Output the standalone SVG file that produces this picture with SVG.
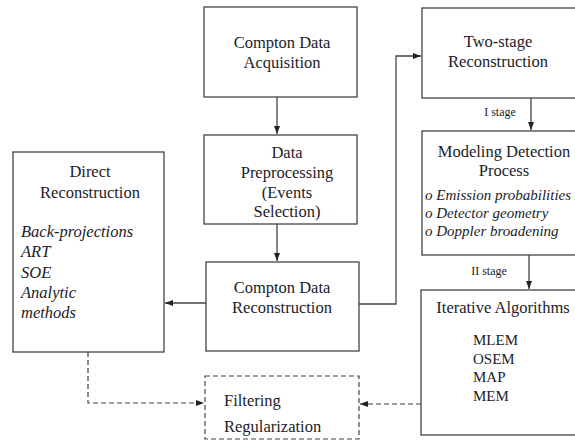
<svg xmlns="http://www.w3.org/2000/svg" width="575" height="441" viewBox="0 0 575 441">
<defs>
<style>
.box{fill:#fff;stroke:#444;stroke-width:1.3}
.dbox{fill:#fff;stroke:#444;stroke-width:1.2;stroke-dasharray:5 3}
.t{font-family:"Liberation Serif","Times New Roman",serif;font-size:16.5px;fill:#1c1c28;text-anchor:middle}
.l{text-anchor:start}
.i{font-style:italic}
.s{font-size:12px}
.m{font-size:15px}
.c{fill:none;stroke:#444;stroke-width:1.3}
.d{fill:none;stroke:#444;stroke-width:1.2;stroke-dasharray:5 3}
</style>
<marker id="ah" viewBox="0 0 8 6" refX="8" refY="3" markerWidth="8" markerHeight="6" markerUnits="userSpaceOnUse" orient="auto">
<path d="M0,0 L8,3 L0,6 Z" fill="#222"/>
</marker>
</defs>
<rect width="575" height="441" fill="#fff"/>
<g id="connectors">
<path class="c" d="M277,97 V134" marker-end="url(#ah)"/>
<path class="c" d="M277,224 V261" marker-end="url(#ah)"/>
<path class="c" d="M206,303 H165" marker-end="url(#ah)"/>
<path class="c" d="M359,304 H396 V56 H421" marker-end="url(#ah)"/>
<path class="c" d="M531,98 V130" marker-end="url(#ah)"/>
<path class="c" d="M529,255 V289" marker-end="url(#ah)"/>
<path class="d" d="M88,352 V403 H204" marker-end="url(#ah)"/>
<path class="d" d="M421,404 H360" marker-end="url(#ah)"/>
<text class="t s" x="500" y="116">I stage</text>
<text class="t s" x="489" y="275">II stage</text>
</g>
<g id="acquisition">
<rect class="box" x="204" y="7" width="153" height="90"/>
<text class="t" x="282" y="48">Compton Data</text>
<text class="t" x="282" y="68">Acquisition</text>
</g>
<g id="preprocessing">
<rect class="box" x="204" y="135" width="153" height="89"/>
<text class="t" x="287" y="158">Data</text>
<text class="t" x="287" y="178">Preprocessing</text>
<text class="t" x="287" y="198">(Events</text>
<text class="t" x="287" y="217">Selection)</text>
</g>
<g id="reconstruction">
<rect class="box" x="206" y="262" width="153" height="89"/>
<text class="t" x="282" y="293">Compton Data</text>
<text class="t" x="282" y="313">Reconstruction</text>
</g>
<g id="direct">
<rect class="box" x="13" y="152" width="151" height="200"/>
<text class="t" x="90" y="177">Direct</text>
<text class="t" x="90" y="198">Reconstruction</text>
<text class="t l i" x="21" y="237">Back-projections</text>
<text class="t l i" x="21" y="257">ART</text>
<text class="t l i" x="21" y="278">SOE</text>
<text class="t l i" x="21" y="298">Analytic</text>
<text class="t l i" x="21" y="318">methods</text>
</g>
<g id="twostage">
<rect class="box" x="422" y="8" width="160" height="90"/>
<text class="t" x="498" y="47">Two-stage</text>
<text class="t" x="498" y="67">Reconstruction</text>
</g>
<g id="modeling">
<rect class="box" x="422" y="131" width="160" height="124"/>
<text class="t" x="504" y="157">Modeling Detection</text>
<text class="t" x="504" y="176">Process</text>
<text class="t l i m" x="425" y="200">o Emission probabilities</text>
<text class="t l i m" x="425" y="218">o Detector geometry</text>
<text class="t l i m" x="425" y="236">o Doppler broadening</text>
</g>
<g id="iterative">
<rect class="box" x="421" y="290" width="161" height="145"/>
<text class="t" x="503" y="313">Iterative Algorithms</text>
<text class="t l m" x="473" y="345">MLEM</text>
<text class="t l m" x="473" y="364">OSEM</text>
<text class="t l m" x="473" y="382">MAP</text>
<text class="t l m" x="473" y="401">MEM</text>
</g>
<g id="filtering">
<rect class="dbox" x="205" y="376" width="154" height="63"/>
<text class="t l" x="224" y="406">Filtering</text>
<text class="t l" x="224" y="432">Regularization</text>
</g>
</svg>
